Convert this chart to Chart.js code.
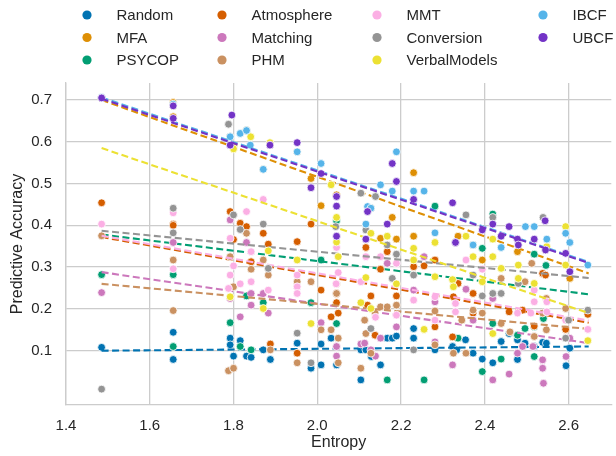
<!DOCTYPE html>
<html>
<head>
<meta charset="utf-8">
<script src="https://cdn.jsdelivr.net/npm/chart.js@4.4.1/dist/chart.umd.min.js"></script>
<style>
  html, body { margin: 0; padding: 0; background: #ffffff; }
  #c { display: block; }
</style>
</head>
<body>
<canvas id="c" width="616" height="456"></canvas>
<script>
// ---------------- data ----------------
const modelNames = ['Random', 'MFA', 'PSYCOP', 'Atmosphere', 'Matching', 'PHM', 'MMT', 'Conversion', 'VerbalModels', 'IBCF', 'UBCF'];
const entropyTicks = [1.4, 1.6, 1.8, 2.0, 2.2, 2.4, 2.6];
const accuracyTicks = [0.1, 0.2, 0.3, 0.4, 0.5, 0.6, 0.7];

// [entropy, predictive accuracy]
const randomPts = [[1.485,0.108],[1.656,0.144],[1.656,0.079],[1.792,0.130],[1.792,0.114],[1.800,0.087],[1.816,0.124],[1.831,0.087],[1.842,0.084],[1.871,0.102],[1.888,0.079],[1.952,0.118],[1.985,0.058],[2.009,0.116],[2.009,0.066],[2.033,0.130],[2.046,0.066],[2.104,0.102],[2.104,0.030],[2.116,0.102],[2.129,0.086],[2.151,0.066],[2.167,0.130],[2.179,0.130],[2.189,0.135],[2.230,0.153],[2.230,0.130],[2.281,0.102],[2.323,0.110],[2.333,0.102],[2.354,0.126],[2.372,0.094],[2.394,0.080],[2.419,0.071],[2.439,0.122],[2.458,0.141],[2.478,0.126],[2.478,0.079],[2.496,0.118],[2.518,0.110],[2.538,0.120],[2.547,0.118],[2.594,0.064],[2.603,0.106]];
const mfaPts = [[1.485,0.705],[1.656,0.694],[1.656,0.660],[1.792,0.612],[1.800,0.592],[1.831,0.627],[1.871,0.534],[1.952,0.576],[1.985,0.512],[2.009,0.447],[2.046,0.473],[2.128,0.441],[2.151,0.369],[2.179,0.419],[2.189,0.367],[2.230,0.526],[2.230,0.374],[2.336,0.374],[2.372,0.353],[2.394,0.317],[2.478,0.337],[2.603,0.273]];
const psycopPts = [[1.485,0.282],[1.656,0.282],[1.656,0.110],[1.792,0.167],[1.816,0.110],[1.831,0.231],[1.842,0.102],[1.871,0.215],[1.985,0.215],[2.009,0.317],[2.046,0.411],[2.046,0.165],[2.167,0.030],[2.255,0.030],[2.281,0.446],[2.336,0.130],[2.394,0.345],[2.394,0.050],[2.419,0.427],[2.419,0.165],[2.439,0.080],[2.478,0.137],[2.496,0.153],[2.518,0.331],[2.518,0.157],[2.518,0.086],[2.546,0.304],[2.540,0.177]];
const atmospherePts = [[1.485,0.454],[1.656,0.403],[1.656,0.400],[1.792,0.433],[1.800,0.366],[1.816,0.405],[1.831,0.397],[1.842,0.313],[1.871,0.381],[1.883,0.355],[1.888,0.116],[1.952,0.361],[1.952,0.094],[1.985,0.403],[2.009,0.245],[2.033,0.181],[2.046,0.237],[2.046,0.215],[2.050,0.190],[2.116,0.347],[2.120,0.209],[2.128,0.231],[2.138,0.137],[2.151,0.295],[2.167,0.337],[2.189,0.231],[2.230,0.301],[2.255,0.303],[2.281,0.317],[2.281,0.157],[2.323,0.133],[2.325,0.229],[2.336,0.261],[2.372,0.237],[2.372,0.190],[2.458,0.193],[2.490,0.197],[2.518,0.159],[2.538,0.285],[2.545,0.281],[2.593,0.151],[2.646,0.187]];
const matchingPts = [[1.485,0.239],[1.656,0.359],[1.792,0.413],[1.792,0.225],[1.816,0.181],[1.831,0.359],[1.842,0.237],[1.842,0.209],[1.871,0.237],[1.883,0.190],[1.952,0.253],[2.009,0.167],[2.046,0.110],[2.046,0.087],[2.104,0.116],[2.113,0.118],[2.128,0.102],[2.139,0.087],[2.151,0.130],[2.167,0.309],[2.189,0.157],[2.230,0.245],[2.255,0.325],[2.281,0.217],[2.281,0.121],[2.323,0.066],[2.355,0.247],[2.372,0.173],[2.419,0.225],[2.419,0.030],[2.458,0.044],[2.478,0.094],[2.490,0.110],[2.515,0.110],[2.538,0.078],[2.538,0.058],[2.540,0.022],[2.594,0.086],[2.603,0.130]];
const phmPts = [[1.485,0.375],[1.656,0.317],[1.656,0.196],[1.792,0.325],[1.800,0.253],[1.788,0.052],[1.800,0.058],[1.831,0.381],[1.842,0.295],[1.871,0.317],[1.883,0.281],[1.888,0.102],[1.952,0.265],[1.952,0.071],[1.985,0.265],[2.009,0.150],[2.033,0.150],[2.046,0.260],[2.046,0.237],[2.050,0.130],[2.050,0.071],[2.104,0.058],[2.113,0.173],[2.116,0.141],[2.128,0.094],[2.138,0.190],[2.151,0.205],[2.167,0.205],[2.189,0.209],[2.281,0.195],[2.281,0.114],[2.325,0.094],[2.345,0.173],[2.355,0.094],[2.372,0.197],[2.394,0.190],[2.439,0.273],[2.439,0.165],[2.460,0.145],[2.496,0.265],[2.512,0.309],[2.518,0.134],[2.538,0.190],[2.547,0.225],[2.547,0.150],[2.593,0.201]];
const mmtPts = [[1.485,0.403],[1.656,0.430],[1.656,0.296],[1.792,0.369],[1.800,0.303],[1.792,0.281],[1.788,0.249],[1.816,0.260],[1.831,0.433],[1.842,0.337],[1.842,0.265],[1.871,0.462],[1.883,0.245],[1.952,0.281],[1.952,0.253],[1.952,0.237],[2.046,0.347],[2.050,0.287],[2.045,0.260],[2.104,0.265],[2.116,0.325],[2.139,0.180],[2.151,0.325],[2.189,0.309],[2.189,0.185],[2.230,0.221],[2.281,0.229],[2.281,0.173],[2.330,0.213],[2.330,0.193],[2.355,0.317],[2.394,0.295],[2.478,0.190],[2.510,0.190],[2.518,0.245],[2.518,0.217],[2.548,0.217],[2.548,0.193],[2.593,0.173],[2.646,0.151]];
const conversionPts = [[1.485,0.008],[1.656,0.441],[1.656,0.382],[1.788,0.642],[1.800,0.425],[1.816,0.390],[1.871,0.403],[1.883,0.297],[1.952,0.142],[1.985,0.071],[2.044,0.397],[2.104,0.477],[2.116,0.389],[2.128,0.153],[2.139,0.469],[2.167,0.353],[2.179,0.273],[2.189,0.331],[2.230,0.281],[2.230,0.102],[2.330,0.359],[2.355,0.425],[2.372,0.281],[2.394,0.231],[2.419,0.419],[2.419,0.237],[2.439,0.237],[2.480,0.261],[2.539,0.419],[2.593,0.130],[2.600,0.173],[2.646,0.197]];
const verbalPts = [[1.485,0.705],[1.656,0.686],[1.792,0.229],[1.800,0.583],[1.841,0.612],[1.871,0.201],[1.883,0.339],[1.887,0.598],[1.952,0.317],[1.985,0.165],[2.033,0.497],[2.046,0.419],[2.046,0.360],[2.050,0.325],[2.104,0.215],[2.116,0.275],[2.128,0.381],[2.128,0.201],[2.167,0.374],[2.189,0.260],[2.230,0.345],[2.230,0.317],[2.255,0.151],[2.281,0.359],[2.281,0.277],[2.323,0.270],[2.325,0.253],[2.355,0.374],[2.372,0.325],[2.394,0.265],[2.419,0.367],[2.419,0.325],[2.419,0.141],[2.439,0.297],[2.480,0.305],[2.480,0.273],[2.518,0.261],[2.548,0.349],[2.593,0.397],[2.593,0.305],[2.646,0.124]];
const ibcfPts = [[1.485,0.706],[1.656,0.690],[1.792,0.612],[1.816,0.620],[1.831,0.627],[1.840,0.592],[1.871,0.534],[1.952,0.576],[2.009,0.548],[2.116,0.403],[2.120,0.445],[2.128,0.441],[2.151,0.497],[2.179,0.482],[2.189,0.576],[2.230,0.482],[2.255,0.482],[2.281,0.382],[2.372,0.353],[2.439,0.347],[2.497,0.397],[2.518,0.397],[2.548,0.367],[2.593,0.381],[2.603,0.359],[2.646,0.305]];
const ubcfPts = [[1.485,0.705],[1.656,0.686],[1.656,0.656],[1.796,0.664],[1.792,0.592],[1.887,0.592],[1.952,0.598],[1.985,0.490],[2.009,0.524],[2.046,0.469],[2.046,0.446],[2.046,0.374],[2.116,0.367],[2.120,0.433],[2.167,0.403],[2.179,0.548],[2.189,0.505],[2.230,0.462],[2.323,0.454],[2.330,0.359],[2.394,0.389],[2.419,0.403],[2.439,0.374],[2.458,0.397],[2.478,0.367],[2.480,0.353],[2.518,0.367],[2.544,0.411],[2.545,0.341],[2.593,0.333],[2.603,0.289]];

// regression line ends (accuracy at the lowest and highest entropy)
const trendEntropy = [1.485, 2.648];
const trendStart = [0.100, 0.700, 0.378, 0.372, 0.288, 0.260, 0.375, 0.387, 0.585, 0.706, 0.703];
const trendEnd   = [0.110, 0.285, 0.235, 0.167, 0.118, 0.152, 0.172, 0.274, 0.190, 0.312, 0.310];

// ---------------- styling ----------------
const modelPoints = [randomPts, mfaPts, psycopPts, atmospherePts, matchingPts, phmPts, mmtPts, conversionPts, verbalPts, ibcfPts, ubcfPts];
const palette = ['#0173b2', '#de8f05', '#029e73', '#d55e00', '#cc78bc', '#ca9161', '#fbafe4', '#949494', '#ece133', '#56b4e9', '#7333c6'];
const FONT = '"Liberation Sans", Arial, Helvetica, sans-serif';
const TEXT = '#262626';
const GRID = '#cccccc';

const datasets = [];
let drawIdx = 0;
modelNames.forEach((name, i) => {
  datasets.push({
    type: 'scatter',
    label: name,
    data: modelPoints[i].map(p => ({ x: p[0], y: p[1] })),
    backgroundColor: palette[i],
    borderColor: '#ffffff',
    borderWidth: 0.8,
    pointRadius: 3.9,
    pointHoverRadius: 3.9,
    order: 1000 - (drawIdx++)
  });
  datasets.push({
    type: 'scatter',
    label: name + ' trend',
    data: trendEntropy.map((x, k) => ({ x: x, y: k === 0 ? trendStart[i] : trendEnd[i] })),
    showLine: true,
    borderColor: palette[i],
    backgroundColor: palette[i],
    borderWidth: 2.1,
    borderDash: [7, 3.5],
    pointRadius: 0,
    pointHoverRadius: 0,
    fill: false,
    order: 1000 - (drawIdx++)
  });
});

// column-wise legend (3 rows per column), like the reference
const legendColX = [87, 222, 377, 543];
const legendRowY = [15, 37.5, 60];
const columnLegend = {
  id: 'columnLegend',
  afterDraw(chart) {
    const ctx = chart.ctx;
    ctx.save();
    ctx.font = '15px ' + FONT;
    ctx.textBaseline = 'middle';
    ctx.textAlign = 'left';
    modelNames.forEach((name, i) => {
      const col = Math.floor(i / 3), row = i % 3;
      const mx = legendColX[col], my = legendRowY[row];
      ctx.beginPath();
      ctx.arc(mx, my, 4.6, 0, Math.PI * 2);
      ctx.fillStyle = palette[i];
      ctx.fill();
      ctx.fillStyle = TEXT;
      ctx.fillText(name, mx + 29.5, my + 1);
    });
    ctx.restore();
  }
};

new Chart(document.getElementById('c').getContext('2d'), {
  type: 'scatter',
  data: { datasets },
  options: {
    responsive: false,
    animation: false,
    events: [],
    layout: { padding: { top: 83, left: 0, right: 0, bottom: 0 } },
    plugins: { legend: { display: false }, tooltip: { enabled: false } },
    scales: {
      x: {
        type: 'linear',
        min: 1.4,
        max: 2.702,
        afterBuildTicks: s => { s.ticks = entropyTicks.map(v => ({ value: v })); },
        afterFit: s => { s.height = 51; },
        grid: { color: GRID, lineWidth: 1.3, drawTicks: false },
        border: { color: GRID, width: 1.3 },
        ticks: { padding: 12, color: TEXT, font: { family: FONT, size: 15 }, maxRotation: 0, callback: v => Number(v).toFixed(1) },
        title: { display: true, text: 'Entropy', color: TEXT, font: { family: FONT, size: 16 }, padding: { top: 0, bottom: 4 } }
      },
      y: {
        type: 'linear',
        min: -0.03,
        max: 0.7407,
        afterBuildTicks: s => { s.ticks = accuracyTicks.map(v => ({ value: v })); },
        afterFit: s => { s.width = 66; },
        grid: { color: GRID, lineWidth: 1.3, drawTicks: false },
        border: { color: GRID, width: 1.3 },
        ticks: { padding: 14, color: TEXT, font: { family: FONT, size: 15 }, callback: v => Number(v).toFixed(1) },
        title: { display: true, text: 'Predictive Accuracy', color: TEXT, font: { family: FONT, size: 16 }, padding: { top: 8, bottom: 0 } }
      }
    }
  },
  plugins: [columnLegend]
});
</script>
</body>
</html>
